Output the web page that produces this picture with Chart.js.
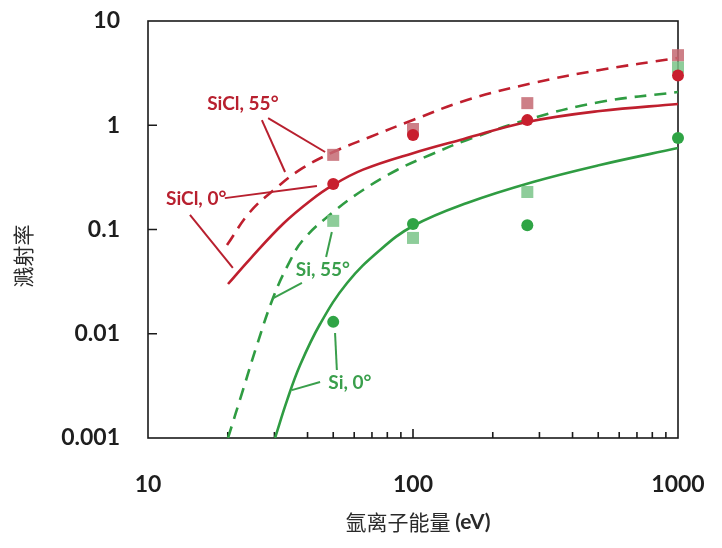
<!DOCTYPE html>
<html>
<head>
<meta charset="utf-8">
<script src="https://cdn.jsdelivr.net/npm/chart.js@4.4.1/dist/chart.umd.min.js"></script>
<style>
  html, body { margin: 0; padding: 0; background: #fff; }
  #wrap { width: 722px; height: 548px; position: relative; }
</style>
</head>
<body>
<div id="wrap"><canvas id="sputterChart"></canvas></div>
<script>
// Measured sputter yields (markers)
const beamEnergies = [50, 100, 270, 1000];
const siclMeas55 = [0.52, 0.92, 1.63, 4.7];
const siclMeas0 = [0.273, 0.805, 1.12, 3.0];
const siMeas55 = [0.121, 0.083, 0.229, 3.6];
const siMeas0 = [0.013, 0.113, 0.11, 0.755];

// Model curves
const siclFit0E = [20.04, 24.26, 32.3, 40.87, 50, 64.8, 100, 154.4, 270, 507.7, 1000];
const siclFit0Y = [0.030, 0.0521, 0.1129, 0.1877, 0.2673, 0.375, 0.54, 0.735, 1.075, 1.37, 1.599];

const siclFit55E = [19.87, 24.26, 30.15, 37.5, 50, 68.8, 100, 159.9, 283.8, 507.7, 1000];
const siclFit55Y = [0.071, 0.1472, 0.245, 0.375, 0.554, 0.771, 1.123, 1.747, 2.543, 3.388, 4.417];

const siFit55E = [20.04, 22.83, 25.78, 29.63, 33.75, 38.45, 50, 64.8, 87.0, 115.9, 159.9, 283.8, 507.7, 1000];
const siFit55Y = [0.001, 0.00289, 0.0078, 0.02203, 0.0457, 0.0793, 0.1472, 0.2393, 0.3721, 0.5184, 0.7221, 1.174, 1.671, 2.084];

const siFit0E = [30.15, 33.5, 37.5, 44.6, 56.4, 75.1, 100, 159.9, 283.8, 507.7, 1000];
const siFit0Y = [0.001, 0.00231, 0.00501, 0.0124, 0.0307, 0.0636, 0.108, 0.1795, 0.2855, 0.4157, 0.605];

// Axis ticks
const xLabelTicks = [10, 100, 1000];
const xMinorTicks = [20, 30, 40, 50, 60, 70, 80, 90, 200, 300, 400, 500, 600, 700, 800, 900];
const xMajorInner = [100];
const yLabelTicks = [0.001, 0.01, 0.1, 1, 10];
const yMajorInner = [0.01, 0.1, 1];

const RED_LINE = "#bf1f2e";
const GREEN_LINE = "#2f9c42";
const RED_TEXT = "#b8202f";
const GREEN_TEXT = "#3a9f4c";

// Callout labels and their leader lines, in data coordinates
const callouts = [
  { text: "SiCl, 55°", color: RED_TEXT, at: [22.8, 1.6],
    leaders: [[[28.4, 1.17], [46.6, 0.554]], [[26.9, 1.12], [32.9, 0.356]]] },
  { text: "SiCl, 0°", color: RED_TEXT, at: [15.2, 0.196],
    leaders: [[[19.5, 0.2], [43.4, 0.261]], [[14.4, 0.138], [20.9, 0.0428]]] },
  { text: "Si, 55°", color: GREEN_TEXT, at: [45.7, 0.0409],
    leaders: [[[49.4, 0.0946], [47, 0.0544]], [[38.1, 0.0307], [29.7, 0.022]]] },
  { text: "Si, 0°", color: GREEN_TEXT, at: [57.8, 0.00337],
    leaders: [[[50.8, 0.01016], [51.6, 0.00449]], [[44.6, 0.00344], [34.9, 0.00288]]] },
];

const pairs = (xs, ys) => xs.map((x, i) => ({ x: x, y: ys[i] }));

const noLabelPadding = (s) => {
  s.paddingTop = 0;
  s.paddingBottom = 0;
  s.paddingLeft = 0;
  s.paddingRight = 0;
};

// frame and inward tick marks, drawn under the data
const framePlugin = {
  id: "frame",
  beforeDatasetsDraw(chart) {
    const { ctx, chartArea: a, scales } = chart;
    ctx.save();
    ctx.strokeStyle = "#1a1a1a";
    ctx.lineWidth = 1.6;
    ctx.strokeRect(a.left, a.top, a.right - a.left, a.bottom - a.top);
    ctx.beginPath();
    xMinorTicks.forEach((v) => {
      const px = scales.x.getPixelForValue(v);
      ctx.moveTo(px, a.bottom);
      ctx.lineTo(px, a.bottom - 6);
    });
    xMajorInner.forEach((v) => {
      const px = scales.x.getPixelForValue(v);
      ctx.moveTo(px, a.bottom);
      ctx.lineTo(px, a.bottom - 9);
    });
    yMajorInner.forEach((v) => {
      const py = scales.y.getPixelForValue(v);
      ctx.moveTo(a.left, py);
      ctx.lineTo(a.left + 9, py);
    });
    ctx.stroke();
    ctx.restore();
  },
  afterDraw(chart) {
    const { ctx, chartArea: a } = chart;
    ctx.save();
    ctx.fillStyle = "#2a2a2a";
    ctx.font = '21px "Noto Sans CJK SC"';
    ctx.textAlign = "center";
    ctx.textBaseline = "middle";
    ctx.translate(23, 256);
    ctx.rotate(-Math.PI / 2);
    ctx.fillText("溅射率", 0, 0);
    ctx.restore();

    ctx.save();
    ctx.fillStyle = "#2a2a2a";
    ctx.textBaseline = "middle";
    const cn = "氩离子能量 ";
    ctx.font = "bold 21px Lato";
    const enW = ctx.measureText("(eV)").width;
    ctx.font = '21px "Noto Sans CJK SC"';
    const cnW = ctx.measureText(cn).width;
    const x0 = (a.left + a.right) / 2 + 5 - (cnW + enW) / 2;
    ctx.fillText(cn, x0, 522);
    ctx.font = "bold 21px Lato";
    ctx.fillText("(eV)", x0 + cnW, 522);
    ctx.restore();
  },
};

// callouts drawn on top of the curves
const calloutPlugin = {
  id: "callouts",
  afterDatasetsDraw(chart) {
    const { ctx, scales } = chart;
    const px = (p) => [scales.x.getPixelForValue(p[0]), scales.y.getPixelForValue(p[1])];
    ctx.save();
    ctx.font = "bold 19px Lato";
    ctx.textAlign = "center";
    ctx.textBaseline = "middle";
    ctx.lineWidth = 2;
    callouts.forEach((c) => {
      ctx.strokeStyle = c.color;
      ctx.fillStyle = c.color;
      c.leaders.forEach((seg) => {
        const p0 = px(seg[0]);
        const p1 = px(seg[1]);
        ctx.beginPath();
        ctx.moveTo(p0[0], p0[1]);
        ctx.lineTo(p1[0], p1[1]);
        ctx.stroke();
      });
      const t = px(c.at);
      ctx.fillText(c.text, t[0], t[1]);
    });
    ctx.restore();
  },
};

const curveStyle = (color, dashed) => ({
  type: "line",
  borderColor: color,
  borderWidth: 2.6,
  borderDash: dashed ? [12, 8] : [],
  pointRadius: 0,
  tension: 0.4,
  fill: false,
  order: 3,
});

const markerStyle = (color, shape, radius, order) => ({
  type: "scatter",
  pointStyle: shape,
  pointRadius: radius,
  backgroundColor: color,
  borderColor: color,
  borderWidth: 0,
  clip: false,
  order: order,
});

new Chart(document.getElementById("sputterChart"), {
  data: {
    datasets: [
      { label: "SiCl 0° fit", data: pairs(siclFit0E, siclFit0Y), ...curveStyle(RED_LINE, false) },
      { label: "SiCl 55° fit", data: pairs(siclFit55E, siclFit55Y), ...curveStyle(RED_LINE, true) },
      { label: "Si 55° fit", data: pairs(siFit55E, siFit55Y), ...curveStyle(GREEN_LINE, true) },
      { label: "Si 0° fit", data: pairs(siFit0E, siFit0Y), ...curveStyle(GREEN_LINE, false) },
      { label: "SiCl 55°", data: pairs(beamEnergies, siclMeas55), ...markerStyle("rgba(196,104,114,0.85)", "rect", 8.5, 2) },
      { label: "Si 55°", data: pairs(beamEnergies, siMeas55), ...markerStyle("rgba(122,196,136,0.85)", "rect", 8.5, 2) },
      { label: "SiCl 0°", data: pairs(beamEnergies, siclMeas0), ...markerStyle("#c81f2e", "circle", 6, 1) },
      { label: "Si 0°", data: pairs(beamEnergies, siMeas0), ...markerStyle("#2fa445", "circle", 6, 1) },
    ],
  },
  options: {
    responsive: true,
    maintainAspectRatio: false,
    animation: false,
    layout: { padding: { top: 21, right: 44, left: 0, bottom: 0 } },
    plugins: { legend: { display: false }, tooltip: { enabled: false } },
    scales: {
      x: {
        type: "logarithmic",
        position: "bottom",
        min: 10,
        max: 1000,
        grid: { display: false, drawTicks: false },
        border: { display: false },
        afterBuildTicks: (s) => { s.ticks = xLabelTicks.map((v) => ({ value: v })); },
        afterFit: (s) => { s.height = 110; noLabelPadding(s); },
        ticks: {
          autoSkip: false,
          maxRotation: 0,
          padding: 33,
          color: "#1e1e1e",
          font: { family: "Lato", weight: "bold", size: 23 },
          callback: (v) => String(v),
        },
      },
      y: {
        type: "logarithmic",
        min: 0.001,
        max: 10,
        grid: { display: false, drawTicks: false },
        border: { display: false },
        afterBuildTicks: (s) => { s.ticks = yLabelTicks.map((v) => ({ value: v })); },
        afterFit: (s) => { s.width = 148; noLabelPadding(s); },
        ticks: {
          padding: 28,
          color: "#1e1e1e",
          font: { family: "Lato", weight: "bold", size: 23 },
          callback: (v) => String(v),
        },
      },
    },
  },
  plugins: [framePlugin, calloutPlugin],
});
</script>
</body>
</html>
